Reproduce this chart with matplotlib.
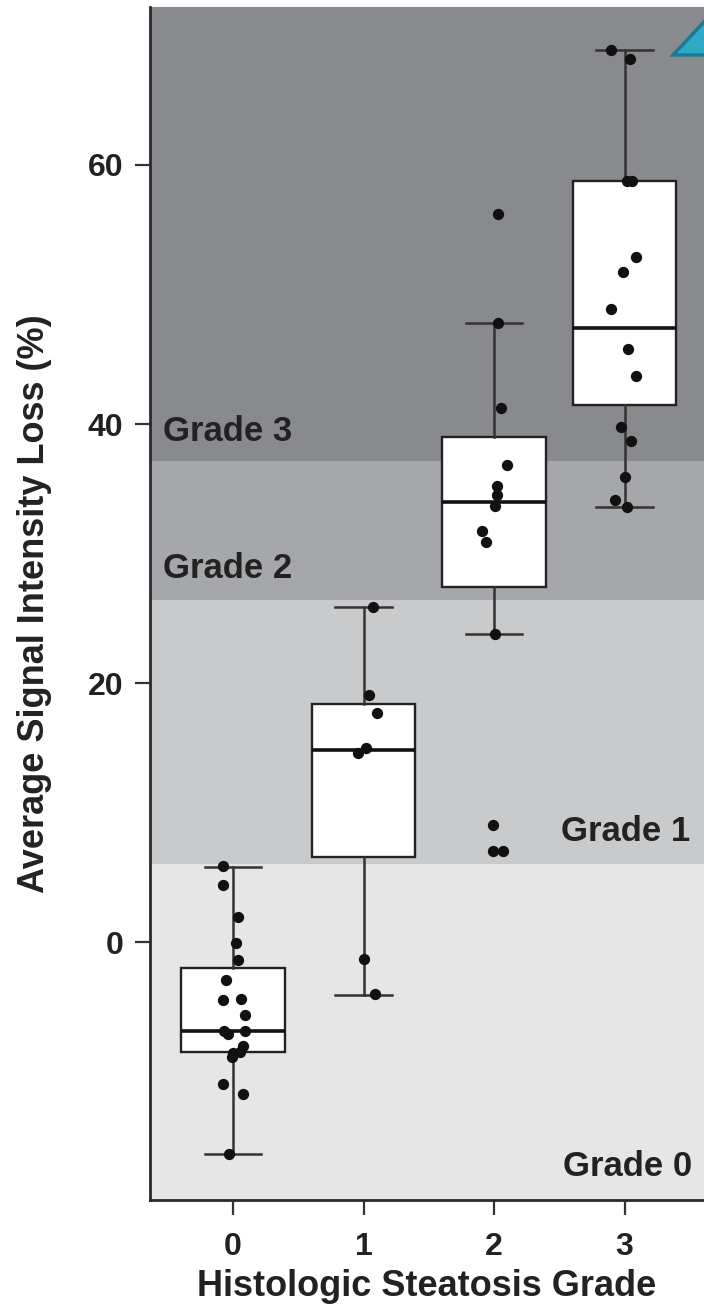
import matplotlib.pyplot as plt
from matplotlib.patches import Polygon
import numpy as np

# histologic grade on x, signal intensity loss (%) on y
grades = [0, 1, 2, 3]

sil_g0 = [5.9, 4.4, 1.9, -0.1, -1.4, -2.9, -4.5, -4.4, -5.6, -6.9, -7.1, -6.9,
          -8.0, -8.6, -8.5, -8.9, -11.0, -11.7, -16.4]
jit_g0 = [-0.08, -0.08, 0.04, 0.02, 0.04, -0.05, -0.08, 0.06, 0.09, -0.07, -0.04,
          0.09, 0.08, 0.0, 0.05, -0.01, -0.08, 0.08, -0.03]

sil_g1 = [25.9, 19.1, 17.7, 15.0, 14.6, -1.3, -4.0]
jit_g1 = [0.07, 0.04, 0.10, 0.02, -0.04, 0.0, 0.09]

sil_g2 = [56.2, 47.8, 41.2, 36.8, 35.2, 34.5, 33.7, 31.7, 30.9, 23.8, 9.0, 7.0, 7.0]
jit_g2 = [0.03, 0.03, 0.05, 0.10, 0.02, 0.02, 0.01, -0.09, -0.06, 0.01, -0.01,
          -0.01, 0.07]

sil_g3 = [68.9, 68.2, 58.8, 58.8, 52.9, 51.7, 48.9, 45.8, 43.7, 39.8, 38.7, 35.9,
          34.1, 33.6]
jit_g3 = [-0.10, 0.04, 0.02, 0.055, 0.09, -0.01, -0.10, 0.03, 0.09, -0.03, 0.05,
          0.0, -0.07, 0.02]

# box summary
whis_lo = [-16.4, -4.1, 23.8, 33.6]
q1 = [-8.5, 6.6, 27.4, 41.5]
med = [-6.9, 14.8, 34.0, 47.4]
q3 = [-2.0, 18.4, 39.0, 58.8]
whis_hi = [5.8, 25.9, 47.8, 68.9]

# MR grade thresholds (background bands)
band_names = ['Grade 0', 'Grade 1', 'Grade 2', 'Grade 3']
band_edges = [6.0, 26.4, 37.15]
band_colors = ['#e6e6e6', '#c9cacc', '#a6a7aa', '#898a8d']

ylo, yhi = -19.92, 72.2

fig = plt.figure(figsize=(7.04, 13.08), dpi=100)
ax = fig.add_axes([150 / 704, 108 / 1308, 554 / 704, 1193 / 1308])

edges = [ylo] + band_edges + [yhi]
for i in range(4):
    ax.axhspan(edges[i], edges[i + 1], color=band_colors[i], lw=0, zorder=0)

stats = []
for i in range(4):
    stats.append(dict(whislo=whis_lo[i], q1=q1[i], med=med[i], q3=q3[i],
                      whishi=whis_hi[i], fliers=[]))

ax.bxp(stats, positions=grades, widths=0.79, capwidths=0.43, showfliers=False,
       patch_artist=True,
       boxprops=dict(facecolor='white', edgecolor='#222222', linewidth=1.7),
       whiskerprops=dict(color='#333333', linewidth=1.8),
       capprops=dict(color='#333333', linewidth=1.8),
       medianprops=dict(color='#111111', linewidth=2.6),
       zorder=2)

groups = [(sil_g0, jit_g0), (sil_g1, jit_g1), (sil_g2, jit_g2), (sil_g3, jit_g3)]
for g, (vals, jit) in zip(grades, groups):
    xs = g + np.array(jit)
    ax.scatter(xs, vals, s=66, color='#111111', lw=0, zorder=3)

bold = dict(family='Liberation Sans', fontweight='bold', color='#222222')
ax.text(-0.536, 38.7, band_names[3], ha='left', va='baseline', fontsize=25, **bold)
ax.text(-0.536, 28.1, band_names[2], ha='left', va='baseline', fontsize=25, **bold)
ax.text(3.505, 7.8, band_names[1], ha='right', va='baseline', fontsize=25, **bold)
ax.text(3.515, -18.1, band_names[0], ha='right', va='baseline', fontsize=25, **bold)

ax.set_xlim(-0.636, 3.609)
ax.set_ylim(ylo, yhi)
ax.set_xticks(grades)
ax.set_yticks([0, 20, 40, 60])

for s in ['top', 'right']:
    ax.spines[s].set_visible(False)
for s in ['left', 'bottom']:
    ax.spines[s].set_linewidth(2.0)
    ax.spines[s].set_color('#2a2a2a')

ax.tick_params(axis='both', length=11, width=1.6, color='#333333', labelsize=23)
ax.tick_params(axis='x', pad=12)
ax.tick_params(axis='y', pad=8)
for lab in ax.get_xticklabels() + ax.get_yticklabels():
    lab.set_fontfamily('Liberation Sans')
    lab.set_fontweight('bold')
    lab.set_color('#222222')

ax.set_xlabel('Histologic Steatosis Grade', fontsize=26, labelpad=5, **bold)
ax.set_ylabel('Average Signal Intensity Loss (%)', fontsize=26, labelpad=26, **bold)

# teal marker cut off at the top right corner of the source
tri = Polygon([(673 / 704, 1 - 55 / 1308), (740 / 704, 1 - 55 / 1308),
               (720 / 704, 1 - 5 / 1308)], closed=True,
              transform=fig.transFigure, facecolor='#2eaac4',
              edgecolor='#1b7a92', lw=2.5, zorder=5)
fig.patches.append(tri)

fig.savefig('out.png', dpi=100)
